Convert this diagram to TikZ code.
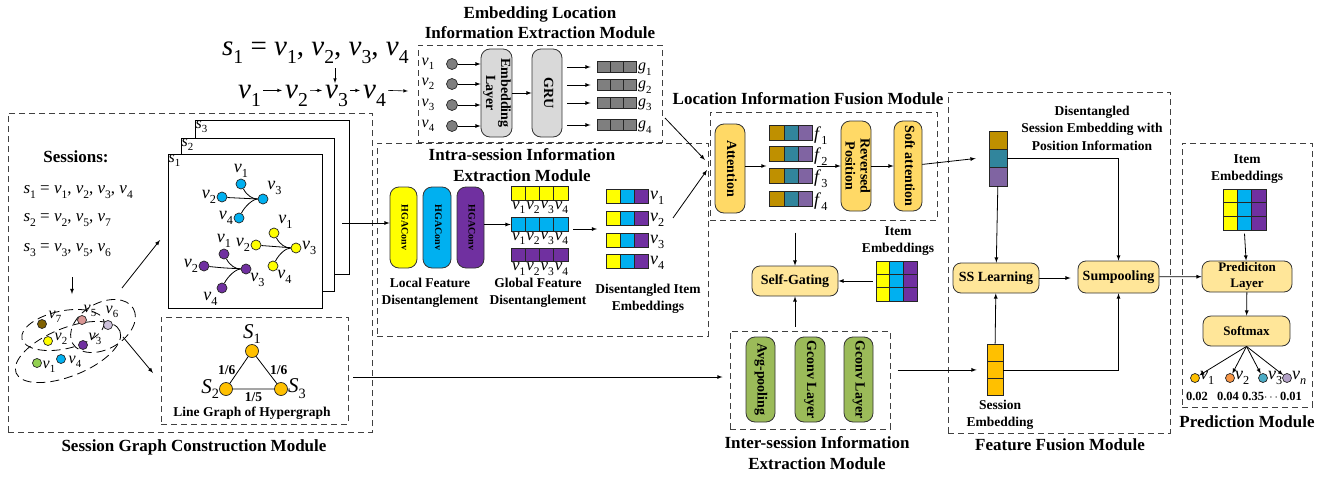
\documentclass[tikz,border=0pt]{standalone}
\usepackage{fontspec}
\usepackage{amsmath}
\usepackage{graphicx}
\setmainfont{Liberation Serif}
\usetikzlibrary{positioning}

\definecolor{hyel}{HTML}{FFFF00}
\definecolor{hblu}{HTML}{00B0F0}
\definecolor{hpur}{HTML}{7030A0}
\definecolor{fgold}{HTML}{BF9000}
\definecolor{fteal}{HTML}{31859C}
\definecolor{fpur}{HTML}{8064A2}
\definecolor{capy}{HTML}{FFD966}
\definecolor{boxy}{HTML}{FFE699}
\definecolor{capg}{HTML}{9BBB59}
\definecolor{sorange}{HTML}{FFC000}
\definecolor{lgray}{HTML}{D9D9D9}
\definecolor{dgray}{HTML}{7F7F7F}
\definecolor{nbrown}{HTML}{7F6000}
\definecolor{npink}{HTML}{D99694}
\definecolor{nlilac}{HTML}{CCC0DA}
\definecolor{ngreen}{HTML}{92D050}
\definecolor{norange}{HTML}{F79646}
\definecolor{nteal}{HTML}{4BACC6}
\definecolor{nlav}{HTML}{B3A2C7}

\newcommand{\vsub}[2]{\textit{#1}\raisebox{-0.28em}{\scalebox{0.68}{#2}}}
\newcommand{\vtext}[1]{\rotatebox{-90}{\begin{tabular}{@{}c@{}}#1\end{tabular}}}

\tikzset{
	module/.style={draw=black!75, line width=1pt, dash pattern=on 6pt off 4pt},
	capsule/.style={draw=black!80, line width=0.8pt, rounded corners=9pt, inner sep=0pt, font=\bfseries\fontsize{14}{15}\selectfont},
	rbox/.style={draw=black!80, line width=0.8pt, rounded corners=8pt, fill=boxy, inner sep=0pt, align=center, font=\bfseries\fontsize{14}{15}\selectfont},
	cell/.style={draw=black!85, line width=0.8pt, inner sep=0pt},
	gdot/.style={circle, draw=black!85, line width=0.7pt, inner sep=0pt, minimum size=10pt},
	vl/.style={inner sep=1pt, font=\fontsize{16}{16}\selectfont},
	vg/.style={inner sep=0.5pt, font=\fontsize{18}{18}\selectfont},
	vh/.style={inner sep=0pt, font=\fontsize{16}{16}\selectfont},
	ttl/.style={align=center, font=\bfseries\fontsize{17}{20}\selectfont},
	note/.style={align=center, font=\bfseries\fontsize{13.5}{17}\selectfont},
	arr/.style={-latex, line width=0.8pt},
	hedge/.style={line width=0.8pt, dash pattern=on 9pt off 5pt},
}

\begin{document}
\begin{tikzpicture}[x=1pt,y=-1pt]
\useasboundingbox (0,0) rectangle (1333,479);

%% session sequence
\node[anchor=base west, inner sep=0pt, font=\fontsize{29}{29}\selectfont] (seq) at (222,55) {\vsub{s}{1} = \vsub{v}{1}, \vsub{v}{2}, \vsub{v}{3}, \vsub{v}{4}};
\foreach \x/\i in {238/1,285/2,325/3,363/4}
	\node[anchor=base west, inner sep=0pt, font=\fontsize{29}{29}\selectfont] (c\i) at (\x,98) {\vsub{v}{\i}};
\coordinate (c5) at (408,91);
\foreach \i [evaluate=\i as \j using int(\i+1)] in {1,...,3}
	\draw[-latex, line width=0.6pt] ([xshift=2,yshift=5]c\i.east) -- ([xshift=-3,yshift=5]c\j.west);
\draw[-latex, line width=0.6pt] ([xshift=2,yshift=5]c4.east) -- (c5);
\coordinate (d1) at (335,68);
\coordinate (d2) at (335,83);
\draw[-latex, line width=0.6pt] (d1) -- (d2);

%% embedding location information extraction
\node[module, minimum width=244, minimum height=97] (emb) at (540,93.5) {};
\node[ttl] (embt) at (540,23) {Embedding Location\\Information Extraction Module};
\node[capsule, fill=lgray, minimum width=31, minimum height=88] (el) at (496.5,93) {\vtext{Embedding\\Layer}};
\node[capsule, fill=lgray, minimum width=30, minimum height=88] (gru) at (547,93) {\vtext{GRU}};
\draw[arr] (el) -- (gru);
\foreach \y [count=\i] in {64,84,105,126}{
	\node[vl] (in\i) at (428,\y) {\vsub{v}{\i}};
	\node[gdot, fill=dgray, minimum size=11pt] (ind\i) at (452,\y) {};
	\draw[arr] (ind\i) -- (ind\i -| el.west);
}
\foreach \y [count=\i] in {67,85,103,125}{
	\foreach \k in {1,2,3}
		\node[cell, fill=dgray, minimum width=13.3, minimum height=11] (g\i-\k) at (590.3+13.3*\k,\y) {};
	\node[vl, anchor=west] (gl\i) at (637,\y+2) {\vsub{g}{\i}};
	\draw[arr] ([xshift=5]gru.east |- g\i-1) -- ([xshift=-6]g\i-1.west);
}

%% session graph construction
\node[module, minimum width=364, minimum height=319] (sgc) at (190,272.5) {};
\node[ttl] (sgct) at (194,447) {Session Graph Construction Module};
\node[font=\bfseries\fontsize{17}{17}\selectfont] (sess) at (76,157) {Sessions:};
\node[anchor=west, font=\fontsize{17}{17}\selectfont] (s1t) at (20,192) {\vsub{s}{1} = \vsub{v}{1}, \vsub{v}{2}, \vsub{v}{3}, \vsub{v}{4}};
\node[anchor=west, font=\fontsize{17}{17}\selectfont] (s2t) at (20,220) {\vsub{s}{2} = \vsub{v}{2}, \vsub{v}{5}, \vsub{v}{7}};
\node[anchor=west, font=\fontsize{17}{17}\selectfont] (s3t) at (20,250) {\vsub{s}{3} = \vsub{v}{3}, \vsub{v}{5}, \vsub{v}{6}};
\coordinate (a1) at (72,277);
\coordinate (a2) at (72,294);
\draw[arr] (a1) -- (a2);

% stacked session cards
\node[draw, fill=white, line width=1pt, minimum width=154, minimum height=154] (cs3) at (272,197) {};
\node[draw, fill=white, line width=1pt, minimum width=153, minimum height=153] (cs2) at (257.5,214.5) {};
\node[draw, fill=white, line width=1pt, minimum width=154, minimum height=154] (cs1) at (245,231) {};
\node[vl, anchor=north west, inner sep=1pt] (ls3) at (cs3.north west) {\vsub{s}{3}};
\node[vl, anchor=north west, inner sep=1pt] (ls2) at (cs2.north west) {\vsub{s}{2}};
\node[vl, anchor=north west, inner sep=1pt] (ls1) at (cs1.north west) {\vsub{s}{1}};

\node[gdot, fill=hblu, label={[vg]above:\vsub{v}{1}}] (b1) at (241,184) {};
\node[gdot, fill=hblu, label={[vg]left:\vsub{v}{2}}] (b2) at (222,197) {};
\node[gdot, fill=hblu, label={[vg]above right:\vsub{v}{3}}] (b3) at (263,199) {};
\node[gdot, fill=hblu, label={[vg]left:\vsub{v}{4}}] (b4) at (239,218) {};
\node[gdot, fill=hyel, label={[vg]above right:\vsub{v}{1}}] (y1) at (274,233) {};
\node[gdot, fill=hyel, label={[vg]left:\vsub{v}{2}}] (y2) at (256,245) {};
\node[gdot, fill=hyel, label={[vg]right:\vsub{v}{3}}] (y3) at (296,248) {};
\node[gdot, fill=hyel, label={[vg]below right:\vsub{v}{4}}] (y4) at (273,266) {};
\node[gdot, fill=hpur, label={[vg]above:\vsub{v}{1}}] (p1) at (224,254) {};
\node[gdot, fill=hpur, label={[vg]left:\vsub{v}{2}}] (p2) at (204,266) {};
\node[gdot, fill=hpur, label={[vg]below right:\vsub{v}{3}}] (p3) at (246,269) {};
\node[gdot, fill=hpur, label={[vg]below left:\vsub{v}{4}}] (p4) at (222,288) {};
\foreach \g in {b,y,p}{
	\draw[line width=0.8pt] (\g1) .. controls ([shift={(6,12)}]\g1) and ([shift={(-10,0)}]\g3) .. (\g3);
	\draw[line width=0.8pt] (\g2) .. controls ([shift={(20,2)}]\g2) .. (\g3);
	\draw[line width=0.8pt] (\g4) .. controls ([shift={(6,-12)}]\g4) and ([shift={(-10,0)}]\g3) .. (\g3);
}

% hypergraph
\draw[hedge, rotate around={22:(68,352)}] (68,352) ellipse [x radius=56, y radius=24];
\draw[hedge, rotate around={12:(63,330)}] (63,330) ellipse [x radius=42, y radius=19];
\draw[hedge, rotate around={30:(103,326)}] (103,326) ellipse [x radius=35, y radius=23];
\node[gdot, fill=nbrown, minimum size=9pt] (h7) at (42,324) {};
\node[gdot, fill=npink, minimum size=9pt] (h5) at (82,320) {};
\node[gdot, fill=nlilac, minimum size=9pt] (h6) at (108,325) {};
\node[gdot, fill=hyel, minimum size=9pt] (h2) at (48,341) {};
\node[gdot, fill=hpur, minimum size=9pt] (h3) at (83,345) {};
\node[gdot, fill=ngreen, minimum size=9pt] (h1) at (37,363) {};
\node[gdot, fill=hblu, minimum size=9pt] (h4) at (61,359) {};
\node[vh] (hl7) at (55,317) {\vsub{v}{7}};
\node[vh] (hl5) at (90,311) {\vsub{v}{5}};
\node[vh] (hl6) at (112,312) {\vsub{v}{6}};
\node[vh] (hl2) at (61,339) {\vsub{v}{2}};
\node[vh] (hl3) at (95,339) {\vsub{v}{3}};
\node[vh] (hl1) at (49,367) {\vsub{v}{1}};
\node[vh] (hl4) at (75,362) {\vsub{v}{4}};
\coordinate (hgA) at (122,288);
\coordinate (hgB) at (160,240);
\coordinate (hgC) at (123,337);
\coordinate (hgD) at (153,373);
\draw[arr] (hgA) -- (hgB);
\draw[arr] (hgC) -- (hgD);

% line graph of hypergraph
\node[module, minimum width=187, minimum height=107] (lg) at (254.5,370.5) {};
\node[gdot, fill=sorange, minimum size=13pt, label={[vl, font=\fontsize{21}{21}\selectfont, inner sep=0pt]above:\vsub{S}{1}}] (S1) at (252,351) {};
\node[gdot, fill=sorange, minimum size=13pt, label={[vl, font=\fontsize{21}{21}\selectfont, inner sep=0pt]left:\vsub{S}{2}}] (S2) at (226,389) {};
\node[gdot, fill=sorange, minimum size=13pt, label={[vl, font=\fontsize{21}{21}\selectfont, inner sep=0pt]right:\vsub{S}{3}}] (S3) at (281,389) {};
\draw[line width=0.8pt] (S1) -- node[note, left] {1/6} (S2) -- node[note, below] {1/5} (S3) -- node[note, right] {1/6} (S1);
\node[note] (lgt) at (252,413) {Line Graph of Hypergraph};

%% intra-session information extraction
\node[module, minimum width=331, minimum height=193] (intra) at (542.5,239.5) {};
\node[ttl, font=\bfseries\fontsize{17}{21}\selectfont] (intrat) at (522,165) {Intra-session Information\\Extraction Module};
\coordinate (cardout) at (342,223);
\node[capsule, fill=hyel, minimum width=27, minimum height=81, font=\bfseries\fontsize{10}{10}\selectfont] (hg1) at (403.5,227.5) {\vtext{HGAConv}};
\node[capsule, fill=hblu, minimum width=28, minimum height=81, font=\bfseries\fontsize{10}{10}\selectfont] (hg2) at (437,227.5) {\vtext{HGAConv}};
\node[capsule, fill=hpur, minimum width=27, minimum height=81, font=\bfseries\fontsize{10}{10}\selectfont] (hg3) at (470.5,227.5) {\vtext{HGAConv}};
\draw[arr] (cardout) -- (cardout -| hg1.west);
\foreach \c/\y [count=\r] in {hyel/193.5, hblu/224.5, hpur/255}{
	\foreach \k in {1,...,4}{
		\node[cell, fill=\c, minimum width=14.25, minimum height=13.5] (gf\r-\k) at (503.9+14.25*\k,\y) {};
		\node[vl, inner sep=0pt, font=\fontsize{17}{17}\selectfont] (gv\r-\k) at (504.5+14.25*\k,\y+14) {\vsub{v}{\k}};
	}
}
\draw[arr] (hg3.east |- gf2-1) -- (gf2-1.west);
\foreach \y [count=\i] in {196,218,240,261}{
	\node[cell, fill=hyel, minimum width=14, minimum height=14] (de\i-1) at (613,\y) {};
	\node[cell, fill=hblu, minimum width=14, minimum height=14] (de\i-2) at (627,\y) {};
	\node[cell, fill=hpur, minimum width=14, minimum height=14] (de\i-3) at (641,\y) {};
	\node[vl, anchor=west, font=\fontsize{18}{18}\selectfont] (dv\i) at (649,\y+2) {\vsub{v}{\i}};
}
\coordinate (gfout) at (573,229);
\coordinate (gfin) at (597,229);
\draw[arr] (gfout) -- (gfin);
\node[note] (lfd) at (430,293) {Local Feature\\Disentanglement};
\node[note] (gfd) at (538,293) {Global Feature\\Disentanglement};
\node[note] (die) at (648,299) {Disentangled Item\\Embeddings};
\coordinate (toloc1) at (665,118);
\coordinate (toloc2) at (673,218);
\coordinate (locin1) at (705,160);
\coordinate (locin2) at (707,170);
\draw[arr] (toloc1) -- (locin1);
\draw[arr] (toloc2) -- (locin2);

%% location information fusion
\node[module, minimum width=227, minimum height=108] (loc) at (823.5,166) {};
\node[ttl] (loct) at (808,99) {Location Information Fusion Module};
\node[capsule, fill=capy, minimum width=30, minimum height=89] (att) at (730,168.5) {\vtext{Attention}};
\foreach \y [count=\i] in {132.5,153.5,175.8,198.5}{
	\node[cell, fill=fgold, minimum width=14.3, minimum height=15] (f\i-1) at (777,\y) {};
	\node[cell, fill=fteal, minimum width=14.3, minimum height=15] (f\i-2) at (791.3,\y) {};
	\node[cell, fill=fpur, minimum width=14.3, minimum height=15] (f\i-3) at (805.6,\y) {};
	\node[vl, anchor=west, font=\fontsize{18}{18}\selectfont] (fl\i) at (813,\y+3) {\vsub{f}{\i}};
}
\node[capsule, fill=capy, minimum width=28, minimum height=90] (rp) at (856,166) {\vtext{Reversed\\Position}};
\node[capsule, fill=capy, minimum width=28, minimum height=90] (sa) at (908,166) {\vtext{Soft attention}};
\draw[arr] (att.east |- rp) -- ([xshift=-3]f1-1.west |- rp);
\draw[arr] ([xshift=4]f1-3.east |- rp) -- (rp);
\draw[arr] (rp) -- (sa);

%% self-gating
\node[rbox, minimum width=86, minimum height=30] (sg) at (795,281) {Self-Gating};
\foreach \c [count=\k] in {hyel,hblu,hpur}
	\foreach \r in {1,2,3}
		\node[cell, fill=\c, minimum width=13.7, minimum height=13.3] (ie\r-\k) at (869.2+13.7*\k,254.4+13.3*\r) {};
\node[note] (iet) at (898,241) {Item\\Embeddings};
\draw[arr] ([xshift=-3]ie2-1.west) -- (sg);
\draw[arr] ([yshift=-12]loc.south -| sg) -- (sg);

%% inter-session information extraction
\node[module, minimum width=160, minimum height=98] (inter) at (810,380) {};
\node[ttl, font=\bfseries\fontsize{17}{21}\selectfont] (intert) at (817,453) {Inter-session Information\\Extraction Module};
\node[capsule, fill=capg, minimum width=29, minimum height=85] (avg) at (760.5,379.5) {\vtext{Avg-pooling}};
\node[capsule, fill=capg, minimum width=30, minimum height=85] (gc1) at (810,379.5) {\vtext{Gconv Layer}};
\node[capsule, fill=capg, minimum width=29, minimum height=85] (gc2) at (858.5,379.5) {\vtext{Gconv Layer}};
\draw[arr] ([yshift=4]inter.north -| sg) -- (sg);
\coordinate (lgout) at (353,377);
\draw[arr] (lgout) -- ([xshift=-7]inter.west |- lgout);

%% feature fusion
\node[module, minimum width=222, minimum height=341] (ff) at (1059,262.5) {};
\node[ttl] (fft) at (1060,445) {Feature Fusion Module};
\node[note, font=\bfseries\fontsize{13.5}{17.5}\selectfont] (dset) at (1092,128) {Disentangled\\Session Embedding with\\Position Information};
\node[cell, fill=fgold, minimum width=18, minimum height=18.3] (ds1) at (998,140.2) {};
\node[cell, fill=fteal, minimum width=18, minimum height=18.3] (ds2) at (998,158.5) {};
\node[cell, fill=fpur, minimum width=18, minimum height=18.3] (ds3) at (998,176.8) {};
\node[cell, fill=sorange, minimum width=16, minimum height=17.3] (se1) at (995,352.6) {};
\node[cell, fill=sorange, minimum width=16, minimum height=17.3] (se2) at (995,369.9) {};
\node[cell, fill=sorange, minimum width=16, minimum height=17.3] (se3) at (995,387.2) {};
\node[note] (set) at (1000,415) {Session\\Embedding};
\node[rbox, minimum width=86, minimum height=30] (ssl) at (996,278) {SS Learning};
\node[rbox, minimum width=81, minimum height=32] (sum) at (1118.5,277) {Sumpooling};
\draw[arr] (sa) -- ([xshift=-13]ds2.west);
\draw[arr] (ds3) -- (ssl);
\draw[arr] (ds2.east) -| (sum);
\draw[arr] (se1) -- (ssl);
\draw[arr] (se2.east) -| (sum);
\draw[arr] (ssl.east) -- ([xshift=-7]ssl.east -| sum.west);
\draw[arr] ([xshift=7]inter.east |- se2) -- ([xshift=-10]se2.west);

%% prediction
\node[module, minimum width=130, minimum height=264] (pred) at (1247,275) {};
\node[ttl] (predt) at (1247,422) {Prediction Module};
\node[note] (piet) at (1247,169) {Item\\Embeddings};
\foreach \c [count=\k] in {hyel,hblu,hpur}
	\foreach \r in {1,2,3}
		\node[cell, fill=\c, minimum width=14.3, minimum height=13.7] (pe\r-\k) at (1215.9+14.3*\k,182.2+13.7*\r) {};
\node[rbox, minimum width=90, minimum height=31, font=\bfseries\fontsize{13}{16}\selectfont] (pl) at (1247,276.5) {Prediciton\\Layer};
\node[rbox, minimum width=87, minimum height=30, font=\bfseries\fontsize{13}{16}\selectfont] (sm) at (1246.5,331) {Softmax};
\draw[arr] ([yshift=-3]pe3-2.south) -- (pl);
\draw[arr] (pl) -- (sm);
\draw[arr] (sum) -- (pl);
\node[gdot, fill=sorange, minimum size=9pt] (o1) at (1195,378) {};
\node[gdot, fill=norange, minimum size=9pt] (o2) at (1230,378) {};
\node[gdot, fill=nteal, minimum size=9pt] (o3) at (1263,378) {};
\node[gdot, fill=nlav, minimum size=9pt] (o4) at (1287,378) {};
\node[vg, inner sep=0pt, anchor=west] (ol1) at (o1.east) {\vsub{v}{1}};
\node[vg, inner sep=0pt, anchor=west] (ol2) at (o2.east) {\vsub{v}{2}};
\node[vg, inner sep=0pt, anchor=west] (ol3) at (o3.east) {\vsub{v}{3}};
\node[vg, inner sep=0pt, anchor=west] (ol4) at (o4.east) {\vsub{v}{\textit{n}}};
\foreach \i in {1,...,4}
	\draw[arr] (sm.south) -- (o\i);
\node[note, font=\bfseries\fontsize{12.5}{12}\selectfont] (pv1) at (1197,396) {0.02};
\node[note, font=\bfseries\fontsize{12.5}{12}\selectfont] (pv2) at (1228,396) {0.04};
\node[note, font=\bfseries\fontsize{12.5}{12}\selectfont, inner sep=0pt] (pv3) at (1272,396) {0.35$\cdots$0.01};
\end{tikzpicture}
\end{document}
